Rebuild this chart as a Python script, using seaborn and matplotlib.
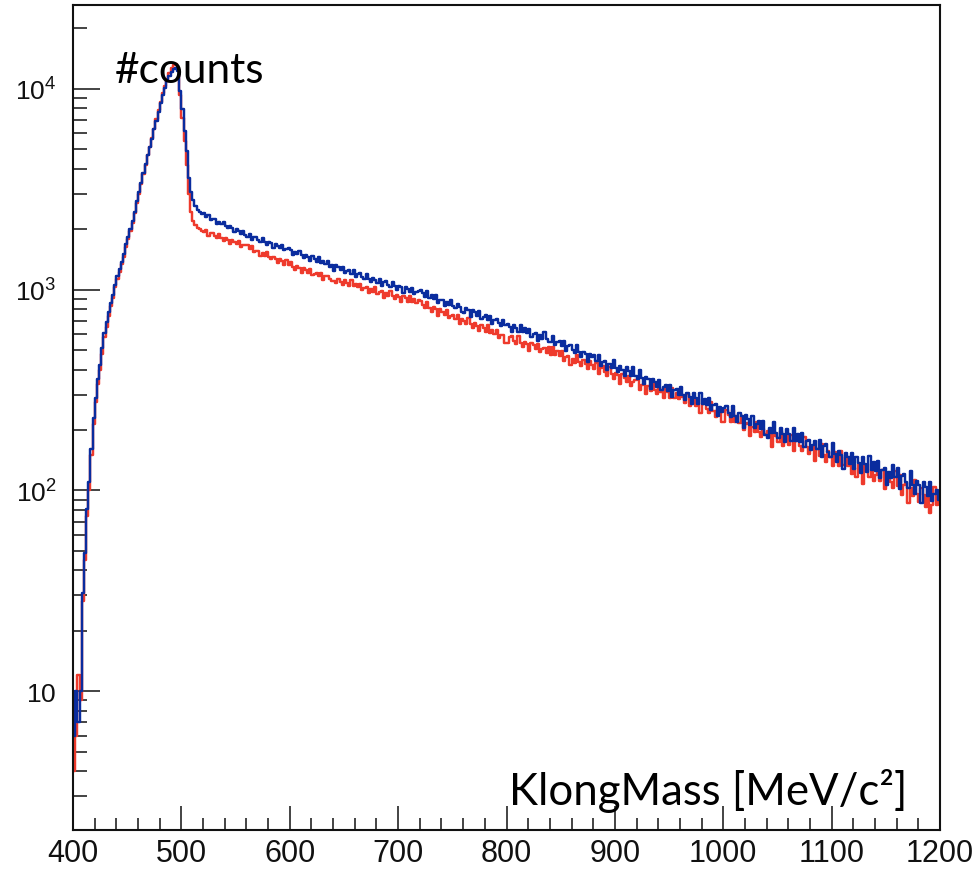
import numpy as np
import pandas as pd
import matplotlib
matplotlib.use("Agg")
import matplotlib.pyplot as plt
import seaborn as sns
from matplotlib.ticker import FixedLocator, MultipleLocator, NullFormatter

# ---------------- data (2 MeV bins, 400..1200 MeV) ----------------
bin_lo = 400
bin_hi = 1200
bin_width = 2

blue_counts = [
    # 400-440
    6, 10, 7, 10, 31, 49, 81, 110, 160, 230, 290, 360, 420, 510, 610, 690, 770, 860, 940, 1060,
    # 440-480
    1170, 1270, 1380, 1500, 1680, 1820, 2000, 2200, 2450, 2750, 3050, 3400, 3800, 4250, 4700, 5150, 5650, 6300, 6950, 7700,
    # 480-520
    8500, 9300, 10100, 10900, 11600, 12200, 12500, 12700, 12300, 9800, 7900, 6200, 4900, 3600, 3050, 2800, 2600, 2480, 2430, 2390,
    # 520-560
    2397, 2313, 2362, 2223, 2252, 2244, 2122, 2178, 2115, 2183, 2083, 2027, 2074, 2019, 1944, 2015, 1962, 1897, 1970, 1864,
    # 560-600
    1840, 1895, 1773, 1831, 1838, 1774, 1733, 1814, 1732, 1676, 1731, 1699, 1612, 1694, 1659, 1609, 1666, 1570, 1591, 1604,
    # 600-640
    1583, 1489, 1543, 1497, 1563, 1486, 1446, 1495, 1454, 1396, 1465, 1427, 1378, 1449, 1364, 1394, 1344, 1384, 1295, 1320,
    # 640-680
    1243, 1323, 1293, 1249, 1304, 1217, 1239, 1254, 1200, 1247, 1153, 1202, 1209, 1161, 1131, 1198, 1135, 1093, 1138, 1116,
    # 680-720
    1084, 1131, 1042, 1092, 1101, 1057, 1031, 1098, 1039, 1000, 1047, 1027, 964, 1032, 1009, 975, 1023, 953, 973, 987,
    # 720-760
    991, 960, 919, 984, 912, 942, 900, 938, 863, 888, 892, 825, 868, 837, 887, 833, 807, 845, 817, 777,
    # 760-800
    768, 811, 791, 732, 793, 771, 739, 781, 716, 734, 746, 707, 742, 672, 709, 715, 681, 659, 710, 664,
    # 800-840
    677, 654, 618, 670, 647, 617, 670, 615, 641, 609, 640, 583, 604, 610, 557, 594, 571, 612, 571, 551,
    # 840-880
    550, 589, 531, 547, 558, 523, 555, 493, 526, 532, 502, 482, 528, 488, 461, 492, 478, 435, 479, 464,
    # 880-920
    470, 443, 470, 419, 438, 442, 397, 428, 408, 444, 408, 390, 418, 400, 373, 412, 395, 372, 410, 371,
    # 920-960
    357, 398, 363, 340, 368, 357, 320, 359, 346, 327, 355, 316, 327, 336, 312, 335, 292, 316, 321, 300,
    # 960-1000
    329, 298, 282, 307, 292, 270, 304, 289, 271, 305, 270, 287, 266, 288, 251, 265, 269, 236, 259, 245,
    # 1000-1040
    257, 262, 243, 231, 264, 236, 219, 242, 234, 205, 238, 228, 213, 236, 205, 215, 222, 203, 223, 189,
    # 1040-1080
    183, 205, 193, 219, 194, 183, 204, 192, 174, 202, 191, 177, 205, 177, 192, 175, 193, 164, 176, 179,
    # 1080-1120
    159, 169, 177, 160, 178, 146, 166, 170, 155, 146, 172, 152, 138, 157, 150, 128, 154, 146, 135, 154,
    # 1120-1160
    128, 146, 137, 122, 146, 136, 124, 149, 126, 138, 125, 140, 115, 126, 129, 107, 124, 115, 134, 117,
    # 1160-1200
    129, 102, 118, 121, 110, 103, 125, 107, 96, 112, 106, 87, 110, 104, 94, 110, 89, 96, 101, 90,
]

red_counts = [
    # 400-440
    4, 6, 12, 9, 28, 45, 75, 100, 150, 215, 275, 340, 400, 480, 580, 650, 740, 830, 910, 1030,
    # 440-480
    1130, 1230, 1340, 1460, 1630, 1780, 1950, 2150, 2400, 2700, 3000, 3350, 3750, 4200, 4680, 5150, 5700, 6350, 7050, 7850,
    # 480-520
    8650, 9500, 10300, 11200, 12000, 12700, 13200, 13300, 12500, 9300, 7200, 5500, 4200, 3000, 2450, 2200, 2100, 2040, 2000, 1970,
    # 520-560
    1928, 1984, 1858, 1918, 1924, 1857, 1814, 1899, 1813, 1753, 1809, 1776, 1686, 1770, 1734, 1682, 1740, 1639, 1661, 1674,
    # 560-600
    1665, 1601, 1645, 1538, 1566, 1565, 1469, 1520, 1472, 1533, 1456, 1415, 1459, 1417, 1359, 1423, 1383, 1333, 1399, 1322,
    # 600-640
    1370, 1300, 1253, 1305, 1279, 1205, 1280, 1251, 1210, 1262, 1180, 1202, 1215, 1165, 1209, 1121, 1167, 1173, 1129, 1101,
    # 640-680
    1109, 1079, 1125, 1095, 1049, 1113, 1084, 1045, 1111, 1040, 1072, 1031, 1071, 996, 1024, 1029, 963, 1007, 977, 1031,
    # 680-720
    950, 978, 984, 913, 961, 929, 984, 929, 900, 943, 915, 873, 933, 905, 869, 931, 866, 894, 856, 893,
    # 720-760
    879, 836, 810, 871, 815, 778, 819, 800, 741, 800, 778, 746, 788, 723, 740, 750, 712, 746, 678, 714,
    # 760-800
    702, 674, 720, 672, 646, 682, 657, 620, 669, 645, 615, 665, 610, 633, 601, 630, 573, 592, 595, 545,
    # 800-840
    541, 578, 586, 554, 536, 585, 544, 516, 551, 537, 493, 543, 528, 504, 538, 489, 504, 515, 486, 516,
    # 840-880
    472, 520, 471, 494, 466, 494, 443, 462, 467, 422, 453, 433, 470, 434, 417, 445, 427, 401, 439, 423,
    # 880-920
    403, 431, 379, 409, 415, 390, 373, 414, 379, 357, 385, 374, 338, 378, 364, 345, 373, 333, 345, 354,
    # 920-960
    361, 318, 334, 340, 301, 330, 313, 345, 315, 301, 325, 311, 288, 323, 308, 290, 325, 290, 307, 287,
    # 960-1000
    303, 291, 273, 301, 263, 276, 284, 262, 286, 244, 269, 274, 255, 244, 276, 249, 233, 255, 247, 219,
    # 1000-1040
    220, 252, 238, 220, 252, 219, 235, 216, 236, 201, 214, 217, 187, 208, 195, 220, 195, 184, 203, 191,
    # 1040-1080
    197, 191, 164, 196, 187, 174, 197, 167, 178, 186, 169, 188, 157, 176, 181, 167, 157, 184, 164, 151,
    # 1080-1120
    163, 166, 140, 160, 148, 171, 150, 139, 157, 147, 132, 156, 146, 133, 158, 134, 146, 132, 147, 121,
    # 1120-1160
    130, 117, 136, 130, 108, 134, 127, 117, 135, 111, 119, 125, 112, 127, 102, 118, 122, 110, 103, 125,
    # 1160-1200
    105, 120, 95, 106, 109, 87, 103, 94, 113, 96, 88, 103, 95, 83, 102, 77, 85, 104, 85, 95,
]

x_ticks = [400, 500, 600, 700, 800, 900, 1000, 1100, 1200]
y_ticks = [10, 100, 1000, 10000]
y_ticklabels = [r"$\mathregular{10}$", r"$\mathregular{10^{2}}$",
                r"$\mathregular{10^{3}}$", r"$\mathregular{10^{4}}$"]
series_names = ["red", "blue"]
series_colors = {"red": "#EE3A2C", "blue": "#0A2C9E"}

# ---------------- build table ----------------
edges = np.arange(bin_lo, bin_hi + bin_width, bin_width)
rows = []
for name, counts in (("red", red_counts), ("blue", blue_counts)):
    vals = list(counts) + [counts[-1]]
    for e, v in zip(edges, vals):
        rows.append({"mass": e, "counts": v, "sample": name})
df = pd.DataFrame(rows)

# ---------------- plot ----------------
sns.set_style("white")
plt.rcParams["font.family"] = ["Liberation Sans", "DejaVu Sans"]
plt.rcParams["mathtext.fontset"] = "custom"
plt.rcParams["mathtext.rm"] = "Liberation Sans"

fig = plt.figure(figsize=(9.75, 8.7), dpi=100)
ax = fig.add_axes([73 / 975, 1 - 831 / 870, (940 - 73) / 975, (831 - 6) / 870])

for name in series_names:
    sub = df[df["sample"] == name]
    sns.lineplot(data=sub, x="mass", y="counts", ax=ax, color=series_colors[name],
                 drawstyle="steps-post", linewidth=1.75, estimator=None, sort=True,
                 legend=False)

ax.set_yscale("log")
ax.set_xlim(400, 1200)
ax.set_ylim(10 ** 0.3085, 10 ** 4.418)

ax.xaxis.set_major_locator(FixedLocator(x_ticks))
ax.xaxis.set_minor_locator(MultipleLocator(20))
ax.set_xticklabels([str(t) for t in x_ticks])
ax.yaxis.set_major_locator(FixedLocator(y_ticks))
minor_y = [m * 10 ** k for k in range(0, 5) for m in range(2, 10)]
ax.yaxis.set_minor_locator(FixedLocator(minor_y))
ax.yaxis.set_minor_formatter(NullFormatter())
ax.set_yticklabels(y_ticklabels)

ax.tick_params(which="both", bottom=True, left=True, top=False, right=False)
ax.tick_params(axis="x", which="major", direction="in", length=17.3, width=1.1,
               labelsize=22, pad=6, colors="#111111")
ax.tick_params(axis="x", which="minor", direction="in", length=8.6, width=1.1,
               colors="#111111")
ax.tick_params(axis="y", which="major", direction="in", length=19.4, width=1.1,
               labelsize=19, pad=12, colors="#111111")
ax.tick_params(axis="y", which="minor", direction="in", length=10, width=1.1,
               colors="#111111")

for s in ax.spines.values():
    s.set_visible(True)
    s.set_linewidth(1.5)
    s.set_color("#111111")

ax.set_xlabel("")
ax.set_ylabel("")

fig.text(115 / 975, 1 - 83 / 870, "#counts", family=["Lato", "DejaVu Sans"],
         fontsize=30.5, ha="left", va="baseline", color="black")
fig.text(907 / 975, 1 - 805 / 870, "KlongMass [MeV/c\u00b2]", family=["Lato", "DejaVu Sans"],
         fontsize=31.5, ha="right", va="baseline", color="black")

fig.savefig("out.png", dpi=100)
